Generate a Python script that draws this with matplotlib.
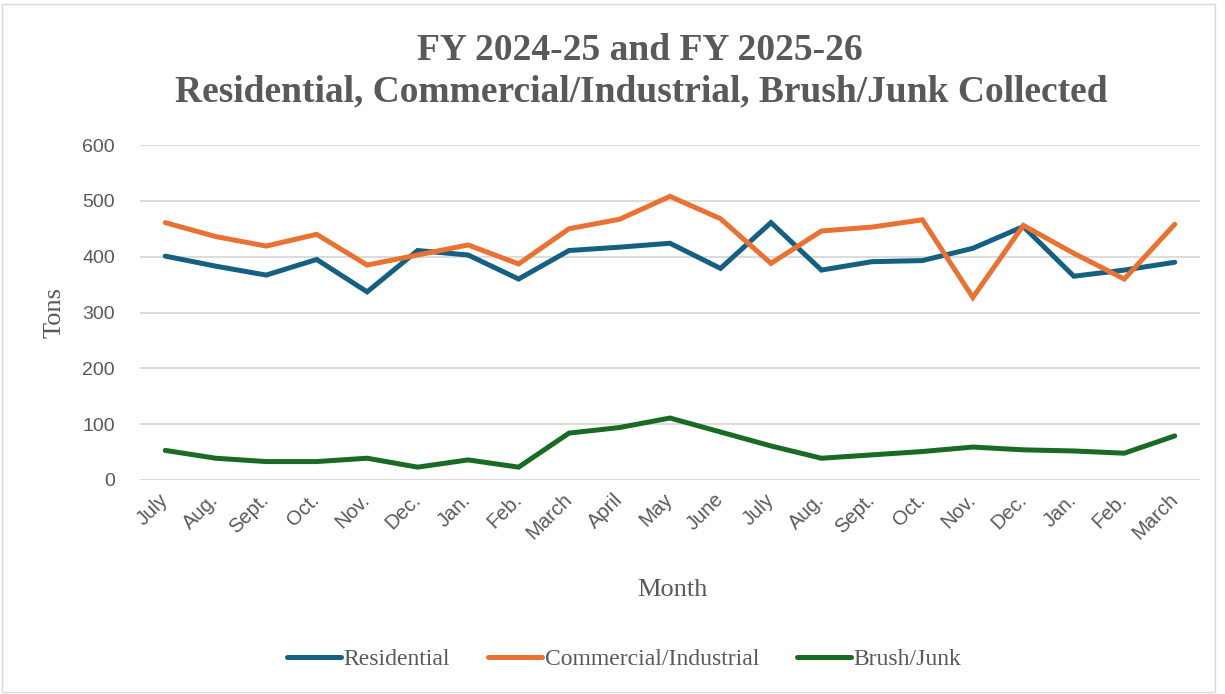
import matplotlib
matplotlib.use("Agg")
import matplotlib.pyplot as plt
from matplotlib.patches import Rectangle

months = ["July", "Aug.", "Sept.", "Oct.", "Nov.", "Dec.", "Jan.", "Feb.", "March", "April", "May", "June",
          "July", "Aug.", "Sept.", "Oct.", "Nov.", "Dec.", "Jan.", "Feb.", "March"]
residential = [401, 383, 367, 395, 337, 411, 403, 360, 411, 417, 424, 379,
               461, 376, 391, 393, 415, 454, 365, 376, 390]
commercial = [461, 436, 419, 440, 385, 403, 421, 387, 450, 467, 508, 468,
              388, 446, 453, 466, 327, 456, 406, 360, 458]
brush = [53, 39, 33, 33, 39, 23, 36, 23, 84, 94, 111, 86,
         61, 39, 45, 51, 59, 54, 52, 48, 79]
yticks = [0, 100, 200, 300, 400, 500, 600]

W, H = 1225, 694
fig = plt.figure(figsize=(W / 100, H / 100), dpi=100)
fig.patches.append(Rectangle((2 / W, 2 / H), 1 - 12 / W, 1 - 6 / H, transform=fig.transFigure,
                             fill=False, edgecolor="#D9D9D9", linewidth=1.0))

ax = fig.add_axes([140 / W, 1 - 480 / H, 1060 / W, 335 / H])
gray = "#595959"
colors = ["#156082", "#E97132", "#196B24"]
x = list(range(len(months)))
ax.plot(x, residential, color=colors[0], lw=3.6, label="Residential", solid_capstyle="round", solid_joinstyle="miter", clip_on=False)
ax.plot(x, commercial, color=colors[1], lw=3.6, label="Commercial/Industrial", solid_capstyle="round", solid_joinstyle="miter", clip_on=False)
ax.plot(x, brush, color=colors[2], lw=3.6, label="Brush/Junk", solid_capstyle="round", solid_joinstyle="miter", clip_on=False)

ax.set_xlim(-0.5, len(months) - 0.5)
ax.set_ylim(0, 600)
ax.set_yticks(yticks)
ax.set_yticklabels([str(v) for v in yticks], fontsize=14, color=gray, family="Liberation Sans")
ax.set_xticks(x)
ax.set_xticklabels(months, rotation=45, ha="right", va="center", rotation_mode="anchor",
                   fontsize=14.5, color=gray, family="Liberation Sans")
ax.tick_params(axis="y", length=0, pad=18)
ax.tick_params(axis="x", length=0, pad=12)
ax.grid(axis="y", color="#D9D9D9", lw=1.3)
ax.set_axisbelow(True)
for s in ax.spines.values():
    s.set_visible(False)

ax.set_ylabel("Tons", fontsize=19, color=gray, family="Liberation Serif", labelpad=12)
fig.text(672 / W, 1 - 590 / H, "Month", fontsize=19, color=gray, family="Liberation Serif", ha="center", va="center")
fig.text(640 / W, 1 - 50 / H, "FY 2024-25 and FY 2025-26", fontsize=27, fontweight="bold", color=gray,
         family="Liberation Serif", ha="center", va="center")
fig.text(641 / W, 1 - 92 / H, "Residential, Commercial/Industrial, Brush/Junk Collected", fontsize=27,
         fontweight="bold", color=gray, family="Liberation Serif", ha="center", va="center")

leg = fig.legend(loc="center", bbox_to_anchor=(624 / W, 1 - 659 / H), ncol=3, frameon=False,
                 prop={"family": "Liberation Serif", "size": 17}, handlelength=2.3, handletextpad=0.1,
                 columnspacing=1.6)
for t in leg.get_texts():
    t.set_color(gray)

fig.savefig("out.png", dpi=100)
